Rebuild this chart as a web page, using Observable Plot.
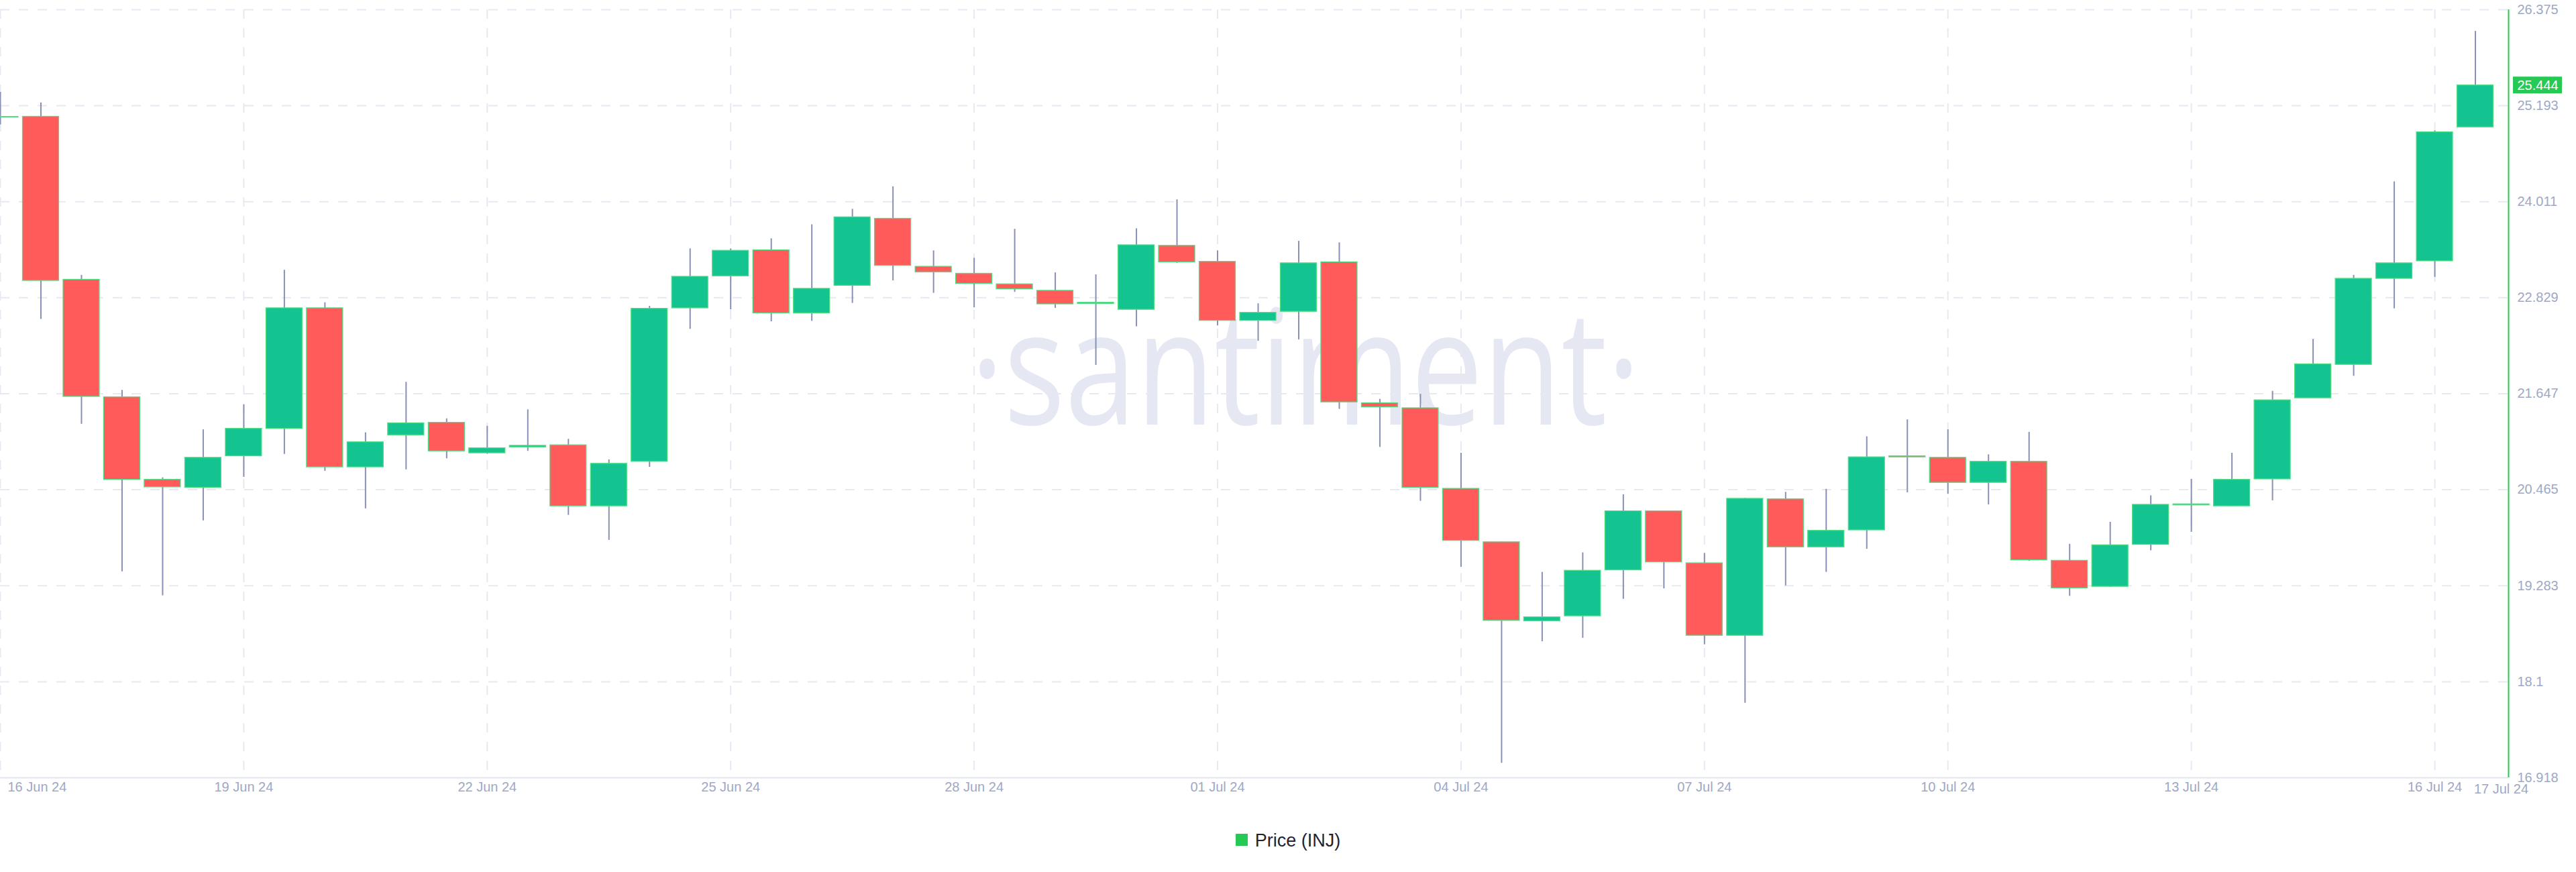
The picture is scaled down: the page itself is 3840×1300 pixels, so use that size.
<!DOCTYPE html>
<html>
<head>
<meta charset="utf-8">
<script src="https://cdn.jsdelivr.net/npm/d3@7"></script>
<script src="https://cdn.jsdelivr.net/npm/@observablehq/plot@0.6"></script>
<style>
  html, body { margin: 0; padding: 0; background: #ffffff; }
  #chart svg { display: block; }
  #legend { text-align: center; margin-top: 36px; font-family: "Liberation Sans", Arial, sans-serif; font-size: 27px; line-height: 30px; color: #1f2433; }
  #legend .sw { display: inline-block; width: 18px; height: 18px; background: #26c953; vertical-align: middle; margin-right: 11px; position: relative; top: -1px; }
  #legend .lb { vertical-align: middle; }
</style>
</head>
<body>
<div id="chart"></div>
<div id="legend"><span class="sw"></span><span class="lb">Price (INJ)</span></div>
<script>
// ---- data: 12h OHLC candles, Price (INJ), starting 16 Jun 2024 00:00 UTC ----
const seriesName = "Price (INJ)";
const open  = [25.050,25.058,23.051,21.604,20.588,20.490,20.878,21.216,22.700,20.742,
               21.136,21.290,20.915,20.988,21.013,20.262,20.810,22.700,23.094,23.414,
               22.638,22.977,23.802,23.211,23.125,22.995,22.915,22.755,22.682,23.469,
               23.272,22.546,22.657,23.266,21.530,21.469,20.477,19.819,18.846,18.908,
               19.474,20.200,19.560,18.668,20.348,19.757,19.966,20.878,20.859,20.551,
               20.810,19.591,19.271,19.788,20.286,20.262,20.594,21.592,22.004,23.063,
               23.279,24.928];
const high  = [25.359,25.230,23.106,21.690,20.613,21.204,21.512,23.168,22.768,21.167,
               21.789,21.339,21.247,21.450,21.087,20.834,22.724,23.432,23.432,23.556,
               23.728,23.919,24.196,23.408,23.316,23.673,23.137,23.112,23.679,24.036,
               23.408,22.755,23.525,23.506,21.579,21.641,20.915,19.825,19.449,19.689,
               20.404,20.205,19.683,20.360,20.434,20.471,21.118,21.327,21.204,20.896,
               21.173,19.794,20.065,20.391,20.594,20.915,21.678,22.318,23.106,24.257,
               24.885,26.110];
const low   = [24.959,22.564,21.272,19.456,19.160,20.083,20.619,20.902,20.693,20.231,
               20.711,20.847,20.902,20.939,20.151,19.843,20.742,22.441,22.682,22.534,
               22.540,22.761,23.038,22.885,22.706,22.897,22.700,21.998,22.472,23.254,
               22.484,22.294,22.312,21.456,20.988,20.324,19.511,17.098,18.594,18.637,
               19.117,19.246,18.557,17.836,19.283,19.449,19.733,20.428,20.410,20.280,
               19.585,19.154,19.265,19.714,19.942,20.260,20.330,21.590,21.863,22.694,
               23.082,24.925];
const close = [25.056,23.038,21.610,20.588,20.496,20.859,21.216,22.700,20.742,21.050,
               21.284,20.939,20.976,21.007,20.262,20.785,22.694,23.088,23.408,22.638,
               22.940,23.820,23.223,23.143,23.002,22.934,22.749,22.768,23.476,23.266,
               22.546,22.644,23.254,21.542,21.481,20.490,19.837,18.852,18.895,19.468,
               20.200,19.572,18.668,20.354,19.757,19.960,20.865,20.865,20.551,20.810,
               19.597,19.252,19.782,20.280,20.274,20.588,21.567,22.010,23.063,23.254,
               24.867,25.444];
const lastPrice = 25.444;

const yTickValues = [16.918, 18.1, 19.283, 20.465, 21.647, 22.829, 24.011, 25.193, 26.375];
const yTickLabels = ["16.918", "18.1", "19.283", "20.465", "21.647", "22.829", "24.011", "25.193", "26.375"];
const xTickDates  = ["2024-06-16","2024-06-19","2024-06-22","2024-06-25","2024-06-28",
                     "2024-07-01","2024-07-04","2024-07-07","2024-07-10","2024-07-13","2024-07-16"];
const xTickLabels = ["16 Jun 24","19 Jun 24","22 Jun 24","25 Jun 24","28 Jun 24",
                     "01 Jul 24","04 Jul 24","07 Jul 24","10 Jul 24","13 Jul 24","16 Jul 24"];
const xEndLabel = {date: "2024-07-17", label: "17 Jul 24"};

// ---- build ----
const start = new Date(Date.UTC(2024, 5, 16));
const xEnd = new Date(Date.UTC(2024, 6, 16, 21, 49));
const times = d3.range(open.length).map(i => d3.utcHour.offset(start, 12 * i));
const candles = times.map((t, i) => ({t, o: open[i], h: high[i], l: low[i], c: close[i]}));
const xTicks = xTickDates.map((d, i) => ({t: new Date(d + "T00:00:00Z"), label: xTickLabels[i]}));

const GREEN = "#14c490", RED = "#ff5b5b", WICK = "#8890b5", GRID = "#e7e9f2", AXIS = "#9ea8c5";
const halfBody = 321; // minutes (body width ~89% of the 12h slot)

const chart = Plot.plot({
  width: 3840,
  height: 1200,
  marginLeft: 0,
  marginRight: 101,
  marginTop: 14,
  marginBottom: 41,
  x: {type: "utc", domain: [start, xEnd], axis: null},
  y: {domain: [16.918, 26.375], axis: null},
  color: {type: "identity"},
  style: {fontFamily: "'Liberation Sans', Arial, sans-serif", background: "#ffffff", overflow: "visible"},
  marks: [
    // watermark
    Plot.text(["·santiment·"], {frameAnchor: "middle", text: d => d, fontFamily: "'Open Sans', sans-serif",
      fontSize: 238, fill: "#e5e8f2", lineAnchor: "bottom", dx: 76, dy: 45.5}),
    // grid
    Plot.ruleY(yTickValues.slice(1), {stroke: GRID, strokeWidth: 2, strokeDasharray: "14,14"}),
    Plot.ruleX(xTicks, {x: "t", y1: 16.918 + 0.09, y2: 26.375, stroke: GRID, strokeWidth: 2, strokeDasharray: "14,14"}),
    Plot.ruleY([16.918], {stroke: "#e2e6ef", strokeWidth: 2}),
    // wicks
    Plot.ruleX(candles, {x: "t", y1: "l", y2: "h", stroke: WICK, strokeWidth: 2, clip: true}),
    // bodies
    Plot.rect(candles, {
      x1: d => d3.utcMinute.offset(d.t, -halfBody),
      x2: d => d3.utcMinute.offset(d.t, halfBody),
      y1: "o", y2: "c",
      fill: d => d.c >= d.o ? GREEN : RED,
      stroke: "#4fdc82", strokeWidth: 1.3, clip: true
    }),
    // right axis line
    Plot.ruleX([xEnd], {stroke: "#26c953", strokeWidth: 2}),
    // y labels
    Plot.text(yTickValues, {x: xEnd, y: d => d, text: (d, i) => yTickLabels[i], textAnchor: "start",
      dx: 13, fill: AXIS, fontSize: 20}),
    // x labels
    Plot.text(xTicks.slice(0, 1), {x: "t", text: "label", frameAnchor: "bottom", dy: 20, dx: 11,
      textAnchor: "start", fill: AXIS, fontSize: 20}),
    Plot.text(xTicks.slice(1), {x: "t", text: "label", frameAnchor: "bottom", dy: 20,
      fill: AXIS, fontSize: 20}),
    Plot.text([xEndLabel], {x: d => new Date(d.date + "T00:00:00Z"), text: "label", frameAnchor: "bottom",
      dy: 23, dx: -22, fill: AXIS, fontSize: 20}),
    // last price label
    Plot.rect([lastPrice], {x1: xEnd, x2: xEnd, y1: d => d, y2: d => d, fill: "#26c953",
      insetLeft: 7, insetRight: -80, insetTop: -12.5, insetBottom: -12.5}),
    Plot.text([lastPrice], {x: xEnd, y: d => d, text: d => d.toFixed(3), textAnchor: "start",
      dx: 13, fill: "#ffffff", fontSize: 20})
  ]
});

document.getElementById("chart").appendChild(chart);

// squeeze watermark to its drawn width
d3.select(chart).selectAll("text").filter(function() { return this.textContent === "·santiment·"; })
  .attr("textLength", 999).attr("lengthAdjust", "spacingAndGlyphs");
</script>
</body>
</html>
